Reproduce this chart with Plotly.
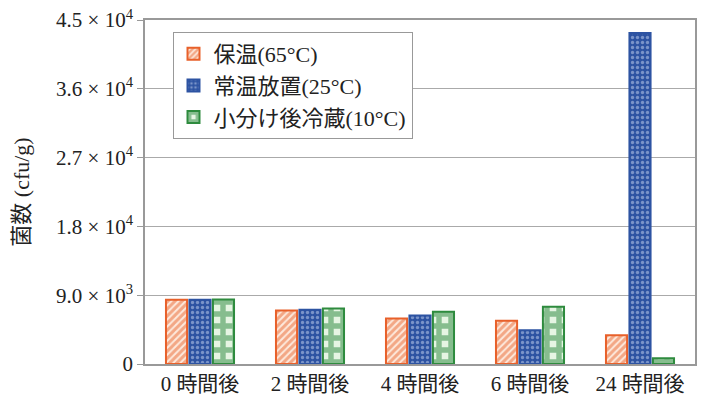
import plotly.graph_objects as go

categories = ["0 時間後", "2 時間後", "4 時間後", "6 時間後", "24 時間後"]
series_names = ["保温(65°C)", "常温放置(25°C)", "小分け後冷蔵(10°C)"]
keep_warm = [8400, 7000, 5950, 5650, 3750]
room_temp = [8400, 7100, 6350, 4400, 43300]
chilled = [8450, 7250, 6850, 7500, 750]
tick_vals = [0, 9000, 18000, 27000, 36000, 45000]
tick_text = ["0", "9.0 × 10<sup>3</sup>", "1.8 × 10<sup>4</sup>", "2.7 × 10<sup>4</sup>",
             "3.6 × 10<sup>4</sup>", "4.5 × 10<sup>4</sup>"]

font_fam = "Liberation Serif, Noto Sans CJK JP, serif"

fig = go.Figure()
fig.add_trace(go.Bar(
    x=categories, y=keep_warm, name=series_names[0],
    marker=dict(color="#fde6d8", line=dict(color="#e8602a", width=2),
                pattern=dict(shape="/", fgcolor="#e9652e", bgcolor="#fde9dc", size=5, solidity=0.6)),
))
fig.add_trace(go.Bar(
    x=categories, y=room_temp, name=series_names[1],
    marker=dict(color="#2d53a2", line=dict(color="#2d53a2", width=2),
                pattern=dict(shape=".", fgcolor="#c8d6f0", bgcolor="#2d53a2", size=5, solidity=0.35)),
))
fig.add_trace(go.Bar(
    x=categories, y=chilled, name=series_names[2],
    marker=dict(color="#2e8b3e", line=dict(color="#2e8b3e", width=2),
                pattern=dict(shape="+", fgcolor="#25853a", bgcolor="#e6f5e3", size=12, solidity=0.7)),
))

fig.update_layout(
    width=703, height=407,
    margin=dict(l=145, r=6, t=17, b=43),
    paper_bgcolor="white", plot_bgcolor="white",
    barmode="group", bargap=0.36, bargroupgap=0.1,
    font=dict(family=font_fam, size=18, color="#222"),
    showlegend=True,
    legend=dict(x=0.05, y=0.965, xanchor="left", yanchor="top",
                bgcolor="white", bordercolor="#999", borderwidth=1,
                font=dict(size=22, family=font_fam), tracegroupgap=0,
                itemwidth=30),
)
fig.update_xaxes(showline=True, linecolor="#999", linewidth=1.5, mirror=True,
                 tickfont=dict(size=21), ticks="")
fig.update_yaxes(range=[0, 45000], tickvals=tick_vals, ticktext=tick_text,
                 showgrid=True, gridcolor="#aaa", gridwidth=1.2,
                 showline=True, linecolor="#999", linewidth=1.5, mirror=True,
                 ticks="outside", ticklen=6, tickcolor="#999",
                 tickfont=dict(size=21),
                 title=dict(text="菌数 (cfu/g)", font=dict(size=22), standoff=20),
                 zeroline=False)

fig.write_html("out.html")
